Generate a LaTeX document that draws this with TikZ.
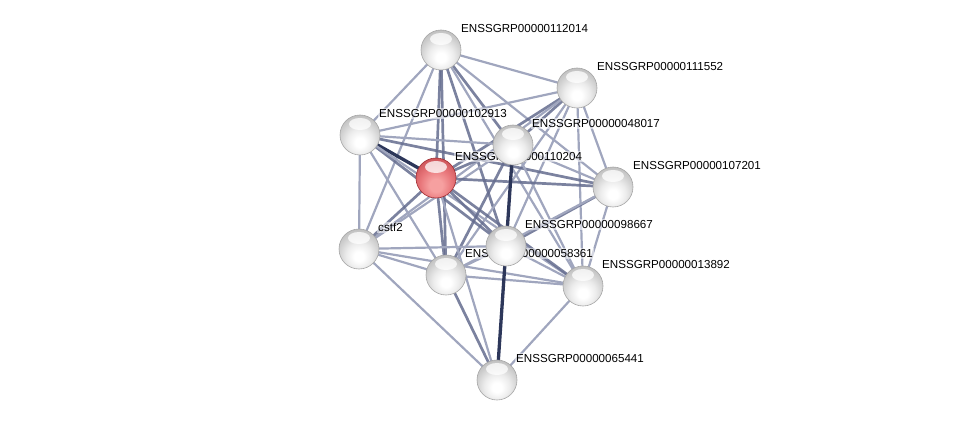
\documentclass[tikz,border=0pt]{standalone}
\usepackage{fontspec}
\setmainfont{Liberation Sans}
\usetikzlibrary{calc}
\pgfdeclareradialshading{sball}{\pgfpoint{0bp}{-10bp}}{color(0bp)=(white); color(6bp)=(white); color(16bp)=(gray!15); color(26bp)=(gray!38); color(36bp)=(gray!58); color(46bp)=(gray!72); color(100bp)=(gray!72)}
\definecolor{rin}{RGB}{246,160,160}
\definecolor{rmid}{RGB}{232,118,122}
\definecolor{rout}{RGB}{205,85,90}
\definecolor{rrim}{RGB}{160,45,50}
\pgfdeclareradialshading{rball}{\pgfpoint{0bp}{-10bp}}{color(0bp)=(rin); color(8bp)=(rin); color(20bp)=(rmid); color(32bp)=(rout); color(44bp)=(rrim); color(100bp)=(rrim)}
\definecolor{ecl}{RGB}{160,166,190}
\definecolor{ecm}{RGB}{100,108,142}
\definecolor{ecd}{RGB}{45,55,90}
\tikzset{
  glint/.style={path picture={\fill[white,opacity=0.75] ($(path picture bounding box.center)+(0pt,11pt)$) ellipse [x radius=11pt, y radius=6pt];}},
  prot/.style={circle, minimum size=40pt, inner sep=0pt, shading=sball, draw=gray!70, line width=0.6pt, glint},
  seed/.style={circle, minimum size=40pt, inner sep=0pt, shading=rball, draw=rrim, line width=0.6pt, glint},
  lab/.style={anchor=base west, inner sep=1pt, font=\fontsize{11.6}{13}\selectfont, fill=white, fill opacity=0.55, text opacity=1},
  el/.style={draw=ecl, line width=2.2pt},
  em/.style={draw=ecm, line width=2.7pt, draw opacity=0.85},
  ed/.style={draw=ecd, line width=3.3pt},
}
\begin{document}
\begin{tikzpicture}[x=1pt,y=-1pt]
\useasboundingbox (0,0) rectangle (976,425);
\coordinate (A) at (441,50);
\coordinate (B) at (577,88);
\coordinate (C) at (360,135);
\coordinate (D) at (513,145);
\coordinate (E) at (436,178);
\coordinate (F) at (613,187);
\coordinate (G) at (359,249);
\coordinate (H) at (506,246);
\coordinate (I) at (446,275);
\coordinate (J) at (583,286);
\coordinate (K) at (497,380);
% edges
\draw[el] (A)--(B); \draw[el] (A)--(C); \draw[em] (A)--(D); \draw[em] (A)--(E);
\draw[el] (A)--(F); \draw[el] (A)--(G); \draw[em] (A)--(H); \draw[em] (A)--(I); \draw[el] (A)--(J);
\draw[el] (B)--(C); \draw[em] (B)--(D); \draw[em] (B)--(E); \draw[el] (B)--(F);
\draw[el] (B)--(G); \draw[el] (B)--(H); \draw[el] (B)--(I); \draw[el] (B)--(J);
\draw[el] (C)--(D); \draw[ed] (C)--(E); \draw[em] (C)--(F); \draw[el] (C)--(G);
\draw[em] (C)--(H); \draw[el] (C)--(I); \draw[el] (C)--(J);
\draw[em] (D)--(E); \draw[el] (D)--(F); \draw[el] (D)--(G); \draw[em] (D)--(I); \draw[el] (D)--(J);
\draw[em] (E)--(F); \draw[em] (E)--(G); \draw[em] (E)--(H); \draw[em] (E)--(I); \draw[em] (E)--(J); \draw[el] (E)--(K);
\draw[em] (F)--(H); \draw[el] (F)--(I); \draw[el] (F)--(J);
\draw[el] (G)--(H); \draw[el] (G)--(I); \draw[el] (G)--(J); \draw[el] (G)--(K);
\draw[el] (H)--(I); \draw[el] (H)--(J);
\draw[el] (I)--(J); \draw[em] (I)--(K); \draw[el] (J)--(K);
\draw[ed] (D)--(K);
% labels
\node[lab] (lA) at ($(A)+(19,-17.5)$) {ENSSGRP00000112014};
\node[lab] (lB) at ($(B)+(19,-17.5)$) {ENSSGRP00000111552};
\node[lab] (lC) at ($(C)+(18,-17.5)$) {ENSSGRP00000102913};
\node[lab] (lD) at ($(D)+(18,-17.5)$) {ENSSGRP00000048017};
\node[lab] (lE) at ($(E)+(18,-17.5)$) {ENSSGRP00000110204};
\node[lab] (lF) at ($(F)+(19,-17.5)$) {ENSSGRP00000107201};
\node[lab] (lG) at ($(G)+(18,-17.5)$) {cstf2};
\node[lab] (lH) at ($(H)+(18,-17.5)$) {ENSSGRP00000098667};
\node[lab] (lI) at ($(I)+(18,-17.5)$) {ENSSGRP00000058361};
\node[lab] (lJ) at ($(J)+(18,-17.5)$) {ENSSGRP00000013892};
\node[lab] (lK) at ($(K)+(18,-17.5)$) {ENSSGRP00000065441};
% nodes
\node[prot] (nA) at (A) {};
\node[prot] (nB) at (B) {};
\node[prot] (nC) at (C) {};
\node[prot] (nD) at (D) {};
\node[seed] (nE) at (E) {};
\node[prot] (nF) at (F) {};
\node[prot] (nG) at (G) {};
\node[prot] (nH) at (H) {};
\node[prot] (nI) at (I) {};
\node[prot] (nJ) at (J) {};
\node[prot] (nK) at (K) {};
\end{tikzpicture}
\end{document}
